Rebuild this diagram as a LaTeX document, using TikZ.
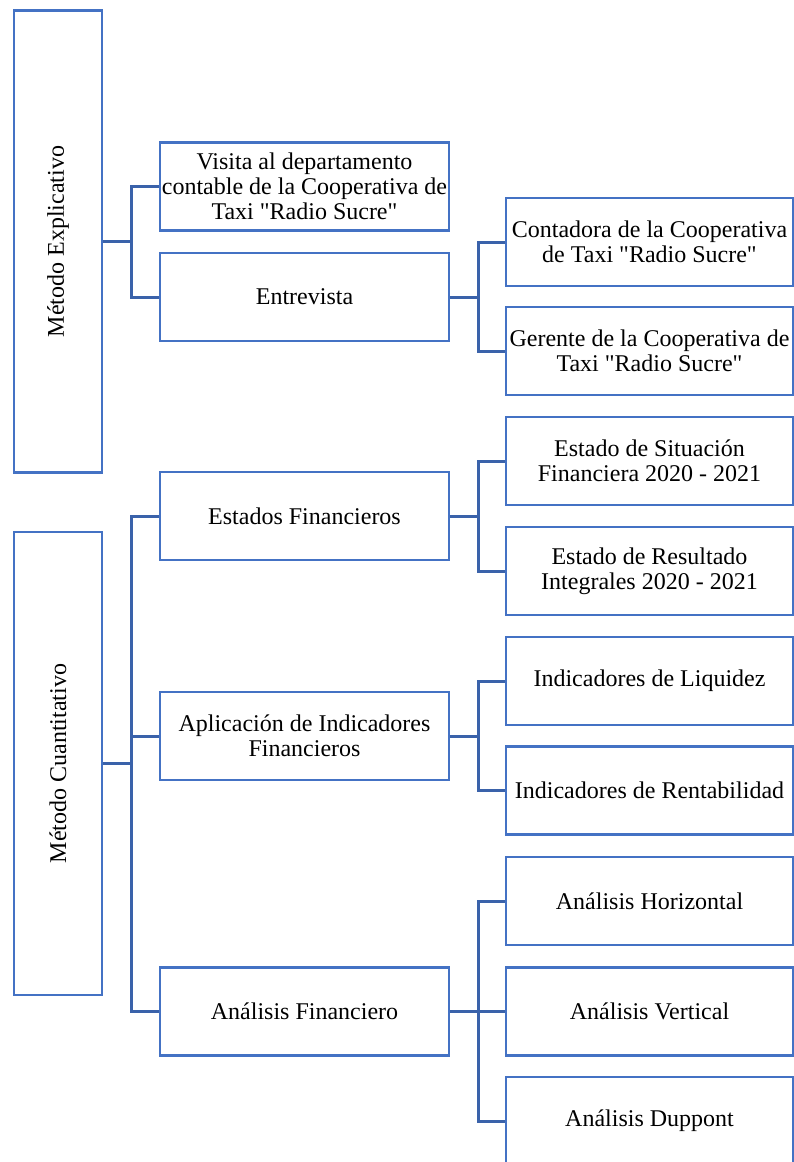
\documentclass[tikz,border=0pt]{standalone}
\usepackage{fontspec}
\setmainfont{Liberation Serif}[Ligatures=TeXOff]
\definecolor{boxblue}{HTML}{4472C4}
\definecolor{lineblue}{HTML}{3A62AA}
\begin{document}
\begin{tikzpicture}[x=1pt,y=-1pt,
  box/.style={draw=boxblue,line width=2.8pt,fill=white,inner sep=0pt,align=center,
    font=\fontsize{24}{25}\selectfont},
  sidebox/.style={box,minimum width=88pt},
  midbox/.style={box,minimum width=289pt,minimum height=88pt},
  rbox/.style={box,minimum width=287pt,minimum height=88pt},
  conn/.style={draw=lineblue,line width=3pt}]
\useasboundingbox (0,0) rectangle (794,1162);
\begin{scope}
\clip (0,0) rectangle (794,1162);
% left column
\node[sidebox,minimum height=462pt] (A) at (58,241.5) {\rotatebox{90}{Método Explicativo}};
\node[sidebox,minimum height=463pt] (B) at (58,763.5) {\rotatebox{90}{Método Cuantitativo}};
% middle column
\node[midbox] (vis) at (304.5,186.5) {Visita al departamento\\contable de la Cooperativa de\\Taxi "Radio Sucre"};
\node[midbox] (ent) at (304.5,297) {Entrevista};
\node[midbox] (est) at (304.5,516) {Estados Financieros};
\node[midbox] (apl) at (304.5,736) {Aplicación de Indicadores\\Financieros};
\node[midbox] (ana) at (304.5,1011.5) {Análisis Financiero};
% right column
\node[rbox] (con) at (649.5,242) {Contadora de la Cooperativa\\de Taxi "Radio Sucre"};
\node[rbox] (ger) at (649.5,351) {Gerente de la Cooperativa de\\Taxi "Radio Sucre"};
\node[rbox] (sit) at (649.5,461) {Estado de Situación\\Financiera 2020 - 2021};
\node[rbox] (res) at (649.5,571) {Estado de Resultado\\Integrales 2020 - 2021};
\node[rbox] (liq) at (649.5,681) {Indicadores de Liquidez};
\node[rbox] (ren) at (649.5,790.5) {Indicadores de Rentabilidad};
\node[rbox] (hor) at (649.5,901) {Análisis Horizontal};
\node[rbox] (ver) at (649.5,1011.5) {Análisis Vertical};
\node[rbox] (dup) at (649.5,1121) {Análisis Duppont};
% connectors
\draw[conn] (A.east) -- ++(28,0) coordinate (ja);
\draw[conn] (ja) |- (vis.west);
\draw[conn] (ja) |- (ent.west);
\draw[conn] (B.east) -- ++(28,0) coordinate (jb);
\draw[conn] (jb) |- (est.west);
\draw[conn] (jb) |- (apl.west);
\draw[conn] (jb) |- (ana.west);
\draw[conn] (ent.east) -- ++(28,0) coordinate (je);
\draw[conn] (je) |- (con.west);
\draw[conn] (je) |- (ger.west);
\draw[conn] (est.east) -- ++(28,0) coordinate (js);
\draw[conn] (js) |- (sit.west);
\draw[conn] (js) |- (res.west);
\draw[conn] (apl.east) -- ++(28,0) coordinate (jp);
\draw[conn] (jp) |- (liq.west);
\draw[conn] (jp) |- (ren.west);
\draw[conn] (ana.east) -- ++(28,0) coordinate (jn);
\draw[conn] (jn) |- (hor.west);
\draw[conn] (jn) -- (ver.west);
\draw[conn] (jn) |- (dup.west);
\end{scope}
\end{tikzpicture}
\end{document}
